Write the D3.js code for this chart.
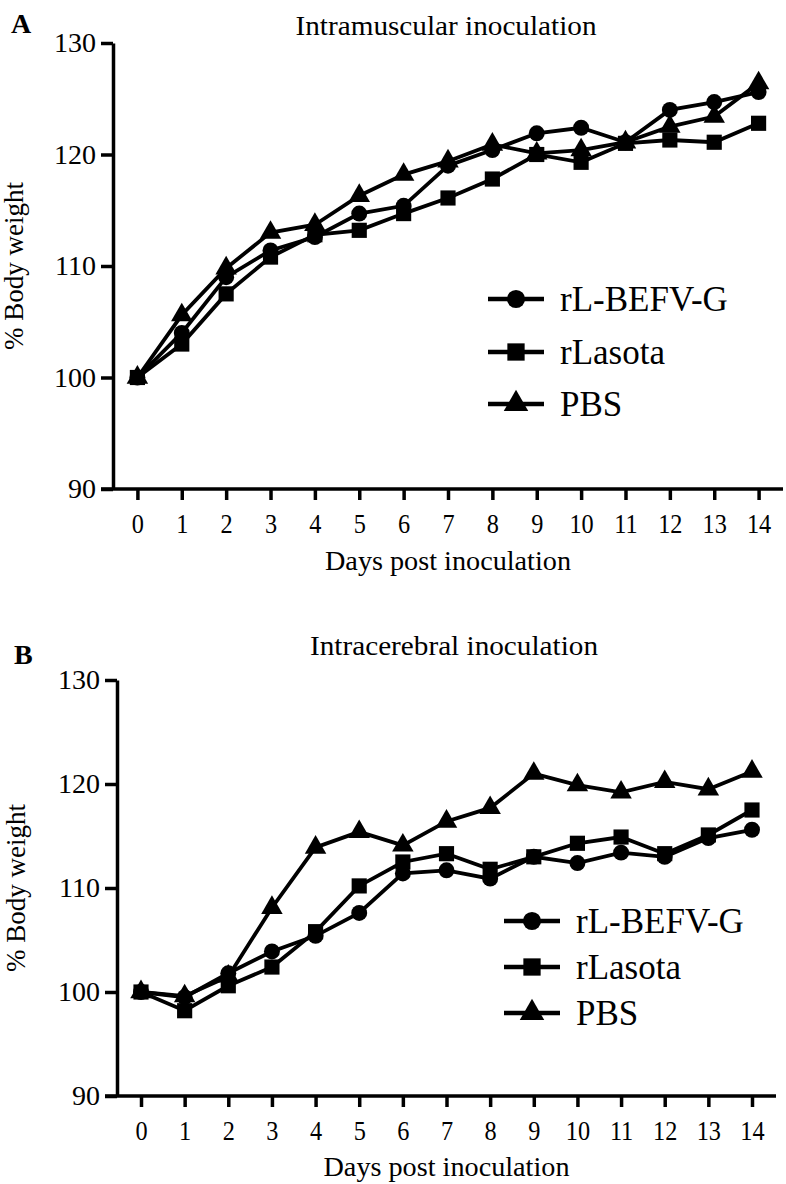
<!DOCTYPE html>
<html><head><meta charset="utf-8">
<script src="https://cdn.jsdelivr.net/npm/d3@7"></script>
<style>body{margin:0;background:#fff}</style>
</head><body><svg id="c" width="786" height="1184"></svg>
<script>
const days = [0,1,2,3,4,5,6,7,8,9,10,11,12,13,14];
const seriesNames = ["rL-BEFV-G","rLasota","PBS"];
const yTicks = [90,100,110,120,130];
// Panel A: Intramuscular inoculation
const imBEFV   = [100,104.0,109.0,111.4,112.6,114.7,115.4,119.0,120.4,121.9,122.4,121.1,124.0,124.7,125.6];
const imLasota = [100,103.0,107.5,110.8,112.8,113.2,114.7,116.1,117.8,120.0,119.3,121.0,121.3,121.1,122.8];
const imPBS    = [100,105.6,109.8,113.0,113.7,116.3,118.2,119.4,120.9,120.1,120.4,121.1,122.5,123.4,126.4];
// Panel B: Intracerebral inoculation
const icBEFV   = [100,99.5,101.8,103.9,105.4,107.6,111.4,111.7,110.9,113.0,112.4,113.4,113.0,114.8,115.6];
const icLasota = [100,98.2,100.6,102.4,105.8,110.2,112.5,113.3,111.8,113.0,114.3,114.9,113.3,115.1,117.5];
const icPBS    = [100,99.6,101.5,108.1,113.9,115.4,114.1,116.4,117.7,121.0,119.9,119.2,120.2,119.5,121.2];

const FONT = '"Liberation Serif"';
const svg = d3.select("#c");
const shapes = [d3.symbolCircle, d3.symbolSquare, d3.symbolTriangle];
const sizes = [200, 230, 200];

function panel(cfg){
  const g = svg.append("g");
  const x = d3.scaleLinear().domain([-0.55,14.55]).range([cfg.x0,cfg.x1]);
  const y = d3.scaleLinear().domain([90,130]).range([cfg.yb,cfg.yt]);
  // y axis
  const ya = g.append("g").attr("transform",`translate(${cfg.x0},0)`)
    .call(d3.axisLeft(y).tickValues(yTicks).tickSize(12).tickSizeOuter(0).tickPadding(5));
  ya.select(".domain").attr("stroke-width",3.5);
  ya.selectAll(".tick line").attr("stroke-width",3.5);
  ya.selectAll(".tick text").style("font-size","28px");
  // x axis
  const xa = g.append("g").attr("transform",`translate(0,${cfg.yb})`)
    .call(d3.axisBottom(x).tickValues(days).tickSize(11).tickSizeOuter(0).tickPadding(12));
  xa.select(".domain").remove();
  xa.selectAll(".tick line").attr("stroke-width",3.5);
  xa.selectAll(".tick text").style("font-size","27px").attr("transform","scale(0.9,1.05)");
  g.append("line").attr("x1",cfg.x0-12).attr("x2",cfg.x1).attr("y1",cfg.yb).attr("y2",cfg.yb)
    .attr("stroke","#000").attr("stroke-width",3.5);
  // titles
  g.append("text").attr("x",cfg.tx).attr("y",cfg.ty).attr("text-anchor","middle")
    .style("font-size","27px").attr("textLength",cfg.tlen).attr("lengthAdjust","spacingAndGlyphs").text(cfg.title);
  g.append("text").attr("x",cfg.lx).attr("y",cfg.ly).style("font-size","28px").style("font-weight","bold").text(cfg.letter);
  g.append("text").attr("x",(cfg.x0+cfg.x1)/2).attr("y",cfg.xty).attr("text-anchor","middle")
    .style("font-size","27px").attr("textLength",246).attr("lengthAdjust","spacingAndGlyphs").text("Days post inoculation");
  g.append("text").attr("transform",`translate(${cfg.ytx},${(cfg.yt+cfg.yb)/2}) rotate(-90)`).attr("text-anchor","middle")
    .style("font-size","27px").text("% Body weight");
  // series
  const line = d3.line().x((d,i)=>x(days[i])).y(d=>y(d));
  cfg.data.forEach((arr,k)=>{
    g.append("path").datum(arr).attr("d",line).attr("fill","none").attr("stroke","#000").attr("stroke-width",3.8);
  });
  cfg.data.forEach((arr,k)=>{
    g.selectAll(null).data(arr).enter().append("path")
      .attr("transform",(d,i)=>`translate(${x(days[i])},${y(d)})`)
      .attr("d",d3.symbol().type(shapes[k]).size(sizes[k]))
      .attr("fill","#000");
  });
  // legend
  seriesNames.forEach((n,k)=>{
    const ly = cfg.legY[k];
    g.append("line").attr("x1",cfg.legX-28).attr("x2",cfg.legX+28).attr("y1",ly).attr("y2",ly)
      .attr("stroke","#000").attr("stroke-width",4.5);
    g.append("path").attr("transform",`translate(${cfg.legX},${ly})`)
      .attr("d",d3.symbol().type(shapes[k]).size(sizes[k]*1.3)).attr("fill","#000");
    g.append("text").attr("x",cfg.legX+44).attr("y",ly+12).style("font-size","35px").text(n);
  });
}

panel({x0:113,x1:783,yt:43,yb:489,title:"Intramuscular inoculation",tx:446,ty:35,tlen:301,
  letter:"A",lx:11,ly:33,xty:570,ytx:23,data:[imBEFV,imLasota,imPBS],legX:516,legY:[299,352,404]});
panel({x0:117,x1:776,yt:680,yb:1096,title:"Intracerebral inoculation",tx:454,ty:655,tlen:288,
  letter:"B",lx:14,ly:664,xty:1176,ytx:25,data:[icBEFV,icLasota,icPBS],legX:532,legY:[921,967,1013]});

svg.selectAll("text").style("font-family", FONT).attr("font-family", "Liberation Serif");
</script></body></html>
